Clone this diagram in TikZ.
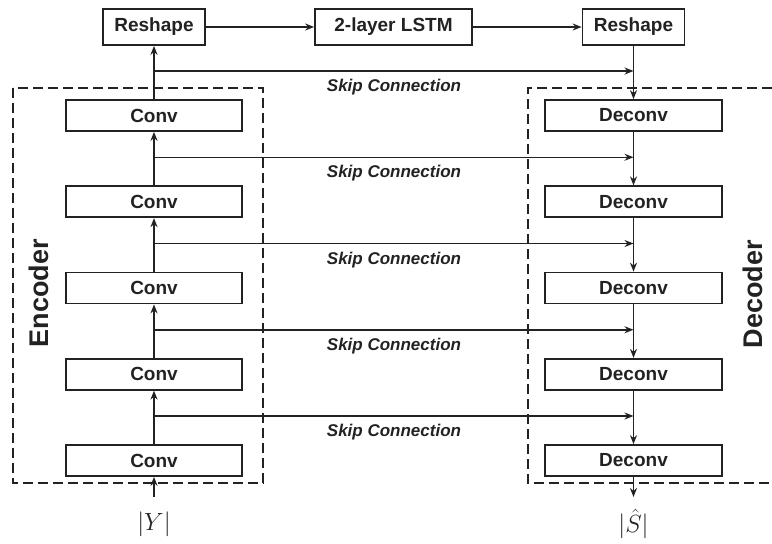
\documentclass[tikz,border=0pt]{standalone}
\usepackage{fontspec}
\setmainfont{Liberation Sans}
\usetikzlibrary{arrows.meta}
\definecolor{ink}{HTML}{222222}
\begin{document}
\begin{tikzpicture}[x=1pt,y=-1pt,
  box/.style={draw=ink,line width=1.7pt,inner sep=0pt,minimum height=31pt,minimum width=176pt,
    font=\fontsize{19}{21}\selectfont\bfseries,text=ink},
  topbox/.style={box,minimum height=36pt},
  arr/.style={draw=ink,line width=1.5pt,-{Stealth[length=9pt,width=7pt]}},
  skiplab/.style={font=\fontsize{17}{19}\selectfont\bfseries\itshape,text=ink},
  dashbox/.style={draw=ink,line width=1.8pt,dash pattern=on 10pt off 5pt},
  side/.style={font=\fontsize{27}{29}\selectfont\bfseries,text=ink,rotate=90},
  mathlab/.style={font=\fontsize{31}{33}\selectfont,text=ink}]
\useasboundingbox (0,0) rectangle (772,544);
% dashed groups
\draw[dashbox] (13,88) rectangle (263,483);
\draw[dashbox] (772,88) -- (528,88) -- (528,483) -- (772,483);
% top row
\node[topbox,minimum width=102pt] (rl) at (154,27) {Reshape};
\node[topbox,minimum width=157pt] (lstm) at (393.5,27) {2-layer LSTM};
\node[topbox,minimum width=102pt] (rr) at (633.5,27) {Reshape};
% encoder / decoder boxes
\foreach \i/\y in {1/115.5,2/201.75,3/288,4/374.25,5/460.5}{
  \node[box] (c\i) at (154,\y) {Conv};
  \node[box,minimum width=177pt] (d\i) at (633.5,\y) {Deconv};
}
% skip coordinates
\foreach \i/\y in {0/71,1/157.25,2/243.5,3/329.75,4/416}{
  \coordinate (sl\i) at (154,\y);
  \coordinate (sr\i) at (633.5,\y);
}
% side labels
\node[side] (enc) at (39,293) {Encoder};
\node[side] (dec) at (753,294) {Decoder};
% input / output
\coordinate (inp) at (154,497);
\coordinate (outp) at (633.5,497);
\node[mathlab] (y) at (154,524) {$|Y|$};
\node[mathlab] (s) at (633.5,524) {$|\hat{S}|$};
% arrows
\draw[arr] (inp) -- (c5.south);
\draw[arr] (c5.north) -- (c4.south);
\draw[arr] (c4.north) -- (c3.south);
\draw[arr] (c3.north) -- (c2.south);
\draw[arr] (c2.north) -- (c1.south);
\draw[arr] (c1.north) -- (rl.south);
\draw[arr] (rl.east) -- (lstm.west);
\draw[arr] (lstm.east) -- (rr.west);
\draw[arr] (rr.south) -- (d1.north);
\draw[arr] (d1.south) -- (d2.north);
\draw[arr] (d2.south) -- (d3.north);
\draw[arr] (d3.south) -- (d4.north);
\draw[arr] (d4.south) -- (d5.north);
\draw[arr] (d5.south) -- (outp);
\foreach \i in {0,...,4}{
  \draw[arr] (sl\i) -- (sr\i);
}
% skip labels
\foreach \i/\y in {0/87.5,1/173.5,2/260,3/346,4/432.5}{
  \node[skiplab] (lab\i) at (394,\y) {Skip Connection};
}
\end{tikzpicture}
\end{document}
